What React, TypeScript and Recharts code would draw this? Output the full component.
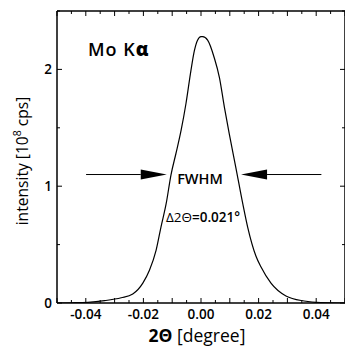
import React from 'react';
import { LineChart, Line, XAxis, YAxis, ReferenceLine } from 'recharts';

// rocking curve
const twoTheta = [
  -0.05, -0.045, -0.0393, -0.0335, -0.0277, -0.0237, -0.0202, -0.0179, -0.0156, -0.0139,
  -0.0121, -0.0104, -0.0087, -0.0069, -0.0052, -0.0035, -0.0023, -0.0012, 0.0, 0.0006,
  0.0023, 0.0046, 0.0064, 0.0081, 0.0098, 0.0121, 0.0145, 0.0162, 0.0191, 0.0208,
  0.0243, 0.0295, 0.0358, 0.0416, 0.05,
];
const intensity = [
  0.0, 0.002, 0.006, 0.02, 0.045, 0.077, 0.17, 0.28, 0.45, 0.65,
  0.85, 1.1, 1.28, 1.48, 1.71, 1.99, 2.16, 2.25, 2.28, 2.28,
  2.25, 2.1, 1.93, 1.68, 1.45, 1.16, 0.85, 0.65, 0.4, 0.31,
  0.17, 0.06, 0.017, 0.003, 0.0,
];

const xTicks = [
  -0.05, -0.045, -0.04, -0.035, -0.03, -0.025, -0.02, -0.015, -0.01, -0.005, 0,
  0.005, 0.01, 0.015, 0.02, 0.025, 0.03, 0.035, 0.04, 0.045, 0.05,
];
const xLabelTicks = [-0.04, -0.02, 0, 0.02, 0.04];
const yTicks = [0, 0.5, 1, 1.5, 2, 2.5];
const yLabelTicks = [0, 1, 2];

// FWHM arrows
const arrowLevel = 1.1;
const leftArrow = [-0.0399, -0.0119];
const rightArrow = [0.0418, 0.0139];

const data = twoTheta.map((x, i) => ({ x, y: intensity[i] }));

const FONT = '"Open Sans", sans-serif';

const has = (list: number[], v: number) => list.some((t) => Math.abs(t - v) < 1e-9);
const xTickLen = (v: number) => (Math.abs(Math.round(v * 100) - v * 100) < 1e-6 ? 5 : 3);
const yTickLen = (v: number) => (Number.isInteger(v) ? 5 : 3);

function BottomTick({ x, y, payload }: any) {
  const v = payload.value;
  const len = xTickLen(v);
  return (
    <g>
      <line x1={x} x2={x} y1={y} y2={y - len} stroke="#000" strokeWidth={1} />
      {has(xLabelTicks, v) && (
        <text x={x} y={y + 16} textAnchor="middle" fontFamily={FONT} fontWeight={600} fontSize={13.5} fill="#000">
          {v.toFixed(2)}
        </text>
      )}
    </g>
  );
}

function TopTick({ x, y, payload }: any) {
  const len = xTickLen(payload.value);
  return <line x1={x} x2={x} y1={y} y2={y + len} stroke="#000" strokeWidth={1} />;
}

function LeftTick({ x, y, payload }: any) {
  const v = payload.value;
  const len = yTickLen(v);
  return (
    <g>
      <line x1={x} x2={x + len} y1={y} y2={y} stroke="#000" strokeWidth={1} />
      {has(yLabelTicks, v) && (
        <text x={x - 5} y={y + 5} textAnchor="end" fontFamily={FONT} fontWeight={600} fontSize={13.5} fill="#000">
          {v}
        </text>
      )}
    </g>
  );
}

function RightTick({ x, y, payload }: any) {
  const len = yTickLen(payload.value);
  return <line x1={x} x2={x - len} y1={y} y2={y} stroke="#000" strokeWidth={1} />;
}

function Arrow(props: any) {
  const { x1, y1, x2, y2 } = props;
  const dir = x2 > x1 ? 1 : -1;
  const head = 26;
  return (
    <g>
      <line x1={x1} y1={y1} x2={x2 - dir * head} y2={y2} stroke="#000" strokeWidth={1} />
      <polygon
        points={`${x2},${y2} ${x2 - dir * head},${y2 - 5} ${x2 - dir * head},${y2 + 5}`}
        fill="#000"
      />
    </g>
  );
}

export default function App() {
  return (
    <div style={{ position: 'absolute', left: 0, top: 0, width: 345, height: 351, overflow: 'hidden', background: '#fff' }}>
      <LineChart width={346} height={351} data={data} margin={{ top: 10, right: 0, bottom: 0, left: 0 }}>
        <XAxis
          xAxisId="b"
          dataKey="x"
          type="number"
          domain={[-0.05, 0.05]}
          ticks={xTicks}
          interval={0}
          height={48}
          tickSize={0}
          tickMargin={0}
          tickLine={false}
          tick={<BottomTick />}
          axisLine={{ stroke: '#000', strokeWidth: 1.5 }}
          allowDataOverflow
        />
        <XAxis
          xAxisId="t"
          orientation="top"
          dataKey="x"
          type="number"
          domain={[-0.05, 0.05]}
          ticks={xTicks}
          interval={0}
          height={1}
          tickSize={0}
          tickMargin={0}
          tickLine={false}
          tick={<TopTick />}
          axisLine={{ stroke: '#000', strokeWidth: 1.5 }}
          allowDataOverflow
        />
        <YAxis
          yAxisId="l"
          type="number"
          domain={[0, 2.5]}
          ticks={yTicks}
          interval={0}
          width={57}
          tickSize={0}
          tickMargin={0}
          tickLine={false}
          tick={<LeftTick />}
          axisLine={{ stroke: '#000', strokeWidth: 1.5 }}
          allowDataOverflow
        />
        <YAxis
          yAxisId="r"
          orientation="right"
          type="number"
          domain={[0, 2.5]}
          ticks={yTicks}
          interval={0}
          width={1}
          tickSize={0}
          tickMargin={0}
          tickLine={false}
          tick={<RightTick />}
          axisLine={{ stroke: '#000', strokeWidth: 1.5 }}
          allowDataOverflow
        />
        <Line
          xAxisId="b"
          yAxisId="l"
          dataKey="y"
          type="monotone"
          stroke="#000"
          strokeWidth={1.2}
          dot={false}
          isAnimationActive={false}
        />
        <ReferenceLine
          xAxisId="b"
          yAxisId="l"
          segment={[{ x: leftArrow[0], y: arrowLevel }, { x: leftArrow[1], y: arrowLevel }]}
          shape={<Arrow />}
        />
        <ReferenceLine
          xAxisId="b"
          yAxisId="l"
          segment={[{ x: rightArrow[0], y: arrowLevel }, { x: rightArrow[1], y: arrowLevel }]}
          shape={<Arrow />}
        />
        <text x={88} y={56} fontFamily={FONT} fontWeight={600} fontSize={18} letterSpacing={1} fill="#000">
          Mo K<tspan fontWeight={800} fontSize={19}>α</tspan>
        </text>
        <text x={200} y={184} textAnchor="middle" fontFamily={FONT} fontWeight={600} fontSize={14.5} fill="#000">
          FWHM
        </text>
        <text x={203} y={222} textAnchor="middle" fontFamily={FONT} fontSize={13.5} fill="#000">
          Δ2Θ<tspan fontWeight={600}>=0.021°</tspan>
        </text>
        <text x={197} y={342} textAnchor="middle" fontFamily={FONT} fontSize={17.5} fill="#000">
          <tspan fontWeight={700}>2Θ</tspan> [degree]
        </text>
        <text
          x={28}
          y={161}
          transform="rotate(-90 28 161)"
          textAnchor="middle"
          fontFamily={FONT}
          fontSize={15.6}
          fill="#000"
        >
          intensity [10<tspan dy={-7} fontSize={10.5}>8</tspan>
          <tspan dy={7}> cps]</tspan>
        </text>
      </LineChart>
    </div>
  );
}
